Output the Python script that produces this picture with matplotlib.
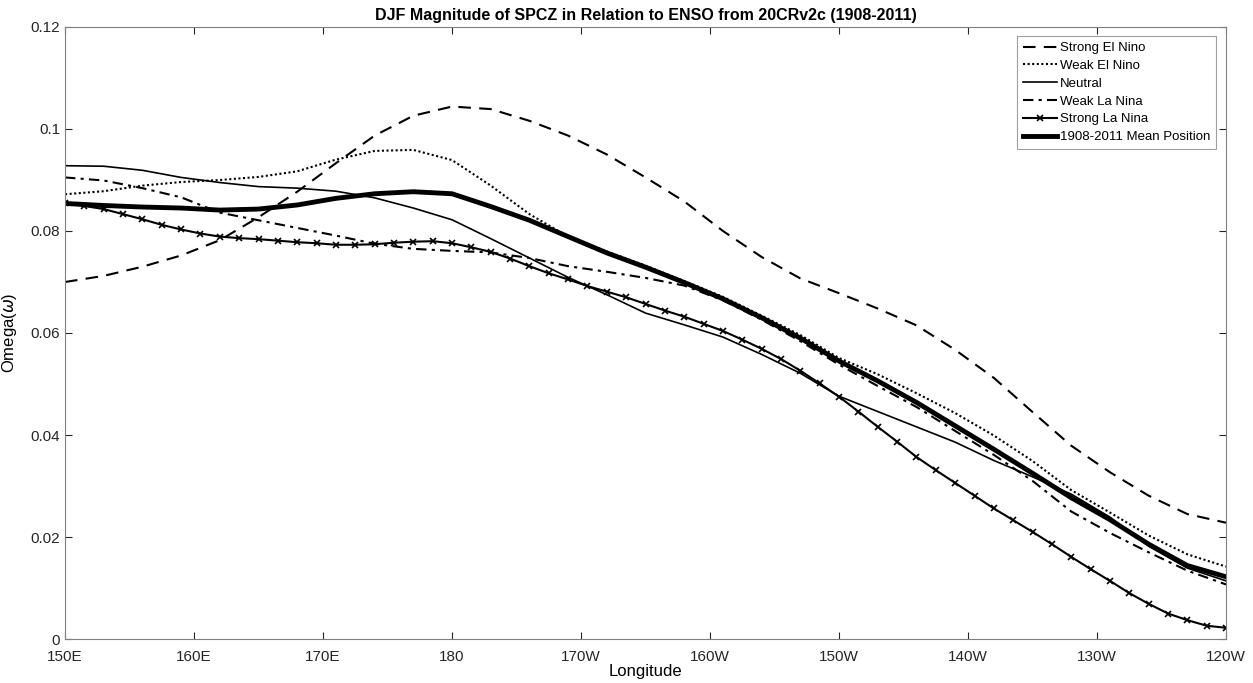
import numpy as np
import matplotlib
matplotlib.use("Agg")
from matplotlib import pyplot as plt

plt.rcParams['font.family'] = ['Liberation Sans', 'DejaVu Sans']

# longitude grid (degrees east)
lon = [150, 153, 156, 159, 162, 165, 168, 171, 174, 177, 180, 183, 186, 189, 192, 195,
       198, 201, 204, 207, 210, 213, 216, 219, 222, 225, 228, 231, 234, 237, 240]
lon_fine = np.arange(150, 240.01, 1.5)  # marker positions of Strong La Nina

strong_el_nino = [0.0700, 0.0712, 0.0730, 0.0752, 0.0782, 0.0827, 0.0877, 0.0933, 0.0987, 0.1026,
                  0.1044, 0.1039, 0.1016, 0.0987, 0.0950, 0.0905, 0.0858, 0.0800, 0.0749, 0.0707,
                  0.0678, 0.0648, 0.0615, 0.0567, 0.0512, 0.0445, 0.0379, 0.0327, 0.0281, 0.0245,
                  0.0228]
weak_el_nino = [0.0872, 0.0878, 0.0889, 0.0896, 0.0900, 0.0906, 0.0917, 0.0940, 0.0957, 0.0959,
                0.0939, 0.0889, 0.0833, 0.0789, 0.0760, 0.0732, 0.0702, 0.0671, 0.0634, 0.0596,
                0.0551, 0.0519, 0.0482, 0.0443, 0.0399, 0.0349, 0.0292, 0.0248, 0.0203, 0.0166,
                0.0142]
neutral = [0.0928, 0.0927, 0.0919, 0.0905, 0.0895, 0.0887, 0.0884, 0.0878, 0.0865, 0.0845,
           0.0822, 0.0785, 0.0747, 0.0709, 0.0675, 0.0639, 0.0616, 0.0592, 0.0558, 0.0521,
           0.0476, 0.0446, 0.0416, 0.0386, 0.0350, 0.0318, 0.0284, 0.0239, 0.0182, 0.0139,
           0.0114]
weak_la_nina = [0.0905, 0.0899, 0.0884, 0.0866, 0.0836, 0.0821, 0.0806, 0.0791, 0.0775, 0.0765,
                0.0761, 0.0758, 0.0747, 0.0731, 0.0720, 0.0708, 0.0693, 0.0664, 0.0626, 0.0584,
                0.0538, 0.0496, 0.0455, 0.0408, 0.0361, 0.0310, 0.0250, 0.0208, 0.0170, 0.0134,
                0.0107]
strong_la_nina = [0.0854, 0.0849, 0.0843, 0.0833, 0.0823, 0.0812, 0.0803, 0.0795, 0.0789, 0.0786,
                  0.0784, 0.0781, 0.0778, 0.0776, 0.0773, 0.0773, 0.0774, 0.0777, 0.0779, 0.0780,
                  0.0776, 0.0768, 0.0759, 0.0746, 0.0731, 0.0717, 0.0705, 0.0692, 0.0681, 0.0670,
                  0.0657, 0.0644, 0.0632, 0.0618, 0.0604, 0.0587, 0.0569, 0.0549, 0.0526, 0.0501,
                  0.0475, 0.0446, 0.0416, 0.0387, 0.0357, 0.0331, 0.0306, 0.0281, 0.0256, 0.0233,
                  0.0210, 0.0186, 0.0161, 0.0137, 0.0114, 0.0090, 0.0069, 0.0050, 0.0037, 0.0026,
                  0.0022]
mean_position = [0.0854, 0.0850, 0.0847, 0.0845, 0.0841, 0.0843, 0.0851, 0.0864, 0.0873, 0.0877,
                 0.0873, 0.0848, 0.0821, 0.0789, 0.0757, 0.0729, 0.0699, 0.0667, 0.0630, 0.0590,
                 0.0545, 0.0506, 0.0464, 0.0418, 0.0372, 0.0325, 0.0277, 0.0234, 0.0186, 0.0144,
                 0.0122]

xtick_vals = [150, 160, 170, 180, 190, 200, 210, 220, 230, 240]
xtick_labels = ['150E', '160E', '170E', '180', '170W', '160W', '150W', '140W', '130W', '120W']
ytick_vals = [0, 0.02, 0.04, 0.06, 0.08, 0.1, 0.12]
ytick_labels = ['0', '0.02', '0.04', '0.06', '0.08', '0.1', '0.12']

fig = plt.figure(figsize=(12.53, 6.83), dpi=100)
ax = fig.add_axes([0.0519, 0.0644, 0.9266, 0.8961])

ax.plot(lon, strong_el_nino, color='k', lw=1.5, linestyle=(0, (6, 4)), label='Strong El Nino')
ax.plot(lon, weak_el_nino, color='k', lw=1.5, linestyle=(0, (1, 1.2)), label='Weak El Nino')
ax.plot(lon, neutral, color='k', lw=1.2, label='Neutral')
ax.plot(lon, weak_la_nina, color='k', lw=1.5, linestyle=(0, (5, 2.5, 1.5, 2.5)), label='Weak La Nina')
ax.plot(lon_fine, strong_la_nina, color='k', lw=1.5, marker='x', markersize=4,
        markeredgewidth=1.2, label='Strong La Nina')
ax.plot(lon, mean_position, color='k', lw=3.5, label='1908-2011 Mean Position')

ax.set_xlim(150, 240)
ax.set_ylim(0, 0.12)
ax.set_xticks(xtick_vals)
ax.set_xticklabels(xtick_labels)
ax.set_yticks(ytick_vals)
ax.set_yticklabels(ytick_labels)
ax.tick_params(direction='in', top=True, right=True, labelsize=11, length=5, colors='#262626')
ax.tick_params(axis='x', pad=8)
for s in ax.spines.values():
    s.set_color('#808080')
    s.set_linewidth(0.8)

ax.set_xlabel('Longitude', fontsize=12, labelpad=0)
ax.set_ylabel(r'Omega($\omega$)', fontsize=12, labelpad=8)
ax.set_title('DJF Magnitude of SPCZ in Relation to ENSO from 20CRv2c (1908-2011)',
             fontsize=11.5, fontweight='bold', pad=5)

leg = ax.legend(loc='upper right', fontsize=9.5, handlelength=2.6, handletextpad=0.2,
                labelspacing=0.42, borderpad=0.45, borderaxespad=0, fancybox=False,
                framealpha=1, bbox_to_anchor=(0.9914, 0.985))
leg.get_frame().set_edgecolor('#a0a0a0')
leg.get_frame().set_linewidth(0.8)

fig.savefig('out.png', dpi=100)
